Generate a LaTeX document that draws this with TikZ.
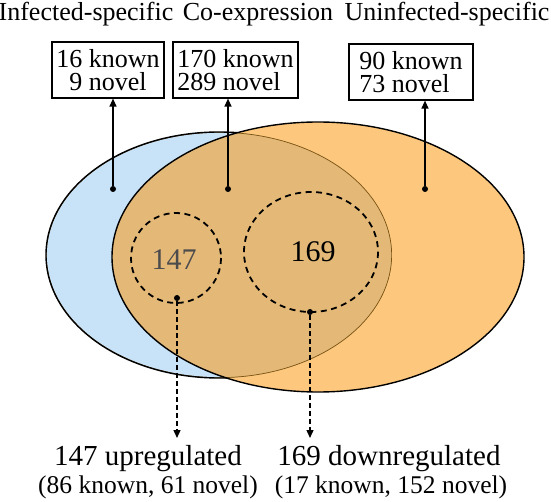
\documentclass[tikz,border=0pt]{standalone}
\usepackage{fontspec}
\setmainfont{Liberation Serif}
\newfontfamily\timesrm{Liberation Serif}
\usetikzlibrary{arrows.meta}

\definecolor{infblue}{HTML}{C8E2F7}
\definecolor{uninforange}{HTML}{FDC87D}
\definecolor{cotan}{HTML}{E4B978}
\definecolor{rimbrown}{HTML}{7A5212}

\begin{document}
\begin{tikzpicture}[
                x=1pt, y=-1pt,
                title/.style={font=\timesrm\fontsize{26}{28}\selectfont, anchor=base},
                countbox/.style={
                  draw,
                  line width=1.2pt,
                  minimum height=56pt,
                  inner sep=2pt,
                  font=\timesrm\fontsize{26}{23.5}\selectfont,
                },
                bignum/.style={font=\timesrm\fontsize{30}{32}\selectfont},
                rim/.style={line width=1.4pt},
                ring/.style={line width=1.8pt, dash pattern=on 6pt off 4.5pt},
                dot/.style={circle, fill=black, inner sep=0pt, minimum size=6pt},
                >={Triangle[width=7pt,length=8pt]},
              ]
              \useasboundingbox (0,0) rectangle (551,502);
              % the two sets
              \fill[infblue] (219,255) ellipse [x radius=173, y radius=123];
              \fill[uninforange] (318,257) ellipse [x radius=206, y radius=135];
              \begin{scope}
                \clip (219,255) ellipse [x radius=173, y radius=123];
                \fill[cotan] (318,257) ellipse [x radius=206, y radius=135];
                \draw[rim, rimbrown] (219,255) ellipse [x radius=173, y radius=123];
              \end{scope}
              \begin{scope}[even odd rule]
                \clip (0,0) rectangle (551,502) (318,257) ellipse [x radius=206, y radius=135];
                \draw[rim] (219,255) ellipse [x radius=173, y radius=123];
              \end{scope}
              \draw[rim] (318,257) ellipse [x radius=206, y radius=135];
              % up and down subsets
              \draw[ring] (176,258) circle (45);
              \draw[ring] (311,252) ellipse [x radius=67, y radius=60];
              \node[bignum, text=black!70] (n147) at (174,260) {147};
              \node[bignum] (n169) at (313,252) {169};
              % titles
              \node[title] (tinf) at (86,21) {Infected-specific};
              \node[title] (tco) at (258,21) {Co-expression};
              \node[title] (tun) at (447,21) {Uninfected-specific};
              % counts
              \node[countbox, minimum width=112pt, align=center] (binf) at (108,70) {16 known\\9 novel};
              \node[countbox, minimum width=125pt, align=left] (bco) at (235.5,70) {170 known\\289 novel};
              \node[countbox, minimum width=124pt, align=left] (bun) at (411,72) {90 known\\73 novel};
              \node[dot] (dinf) at (113,189) {};
              \node[dot] (dco) at (228,189) {};
              \node[dot] (dun) at (425,189) {};
              \draw[->, line width=1.2pt] (dinf) -- (dinf |- binf.south);
              \draw[->, line width=1.2pt] (dco) -- (dco |- bco.south);
              \draw[->, line width=1.2pt] (dun) -- (dun |- bun.south);
              % regulated
              \node[dot] (dup) at (177,298) {};
              \node[dot] (ddown) at (310,312) {};
              \coordinate (upend) at (177,438);
              \coordinate (downend) at (310,438);
              \draw[->, line width=1.4pt, dash pattern=on 5pt off 3pt] (dup) -- (upend);
              \draw[->, line width=1.4pt, dash pattern=on 5pt off 3pt] (ddown) -- (downend);
              \node[anchor=base, font=\timesrm\fontsize{29}{31}\selectfont] (up) at (148,465) {147 upregulated};
              \node[anchor=base, font=\timesrm\fontsize{25.5}{27}\selectfont] (upsub) at (148,493) {(86 known, 61 novel)};
              \node[anchor=base, font=\timesrm\fontsize{29}{31}\selectfont] (down) at (389,465) {169 downregulated};
              \node[anchor=base, font=\timesrm\fontsize{25.5}{27}\selectfont] (downsub) at (391,493) {(17 known, 152 novel)};
              \end{tikzpicture}
\end{document}
